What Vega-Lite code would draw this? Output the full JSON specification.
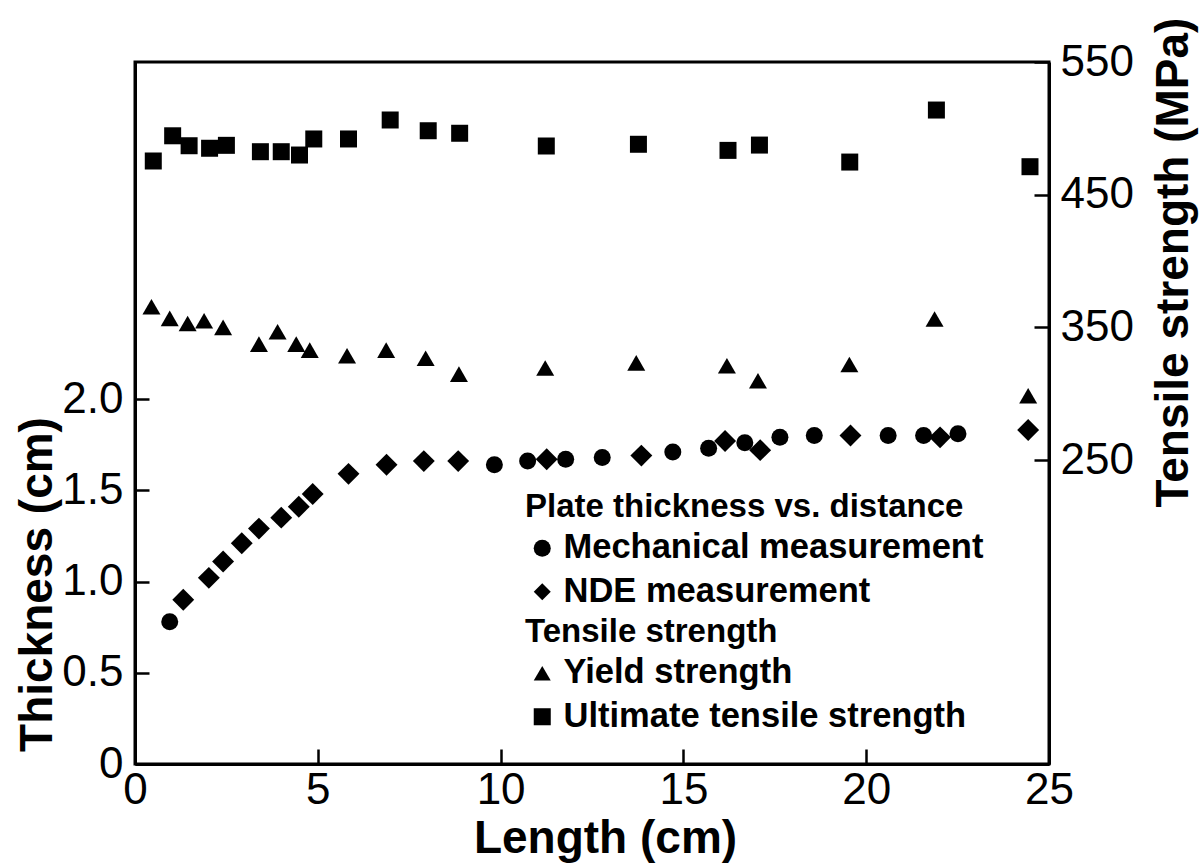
{
  "$schema": "https://vega.github.io/schema/vega-lite/v6.json",
  "width": 914,
  "height": 702,
  "autosize": {"type": "none"},
  "padding": {"left": 135, "top": 62, "right": 153, "bottom": 103},
  "background": "white",
  "config": {
    "font": "Liberation Sans",
    "view": {"stroke": "black", "strokeWidth": 3},
    "axis": {
      "grid": false,
      "domainColor": "black",
      "domainWidth": 3,
      "tickColor": "black",
      "tickWidth": 2.5,
      "labelColor": "black",
      "titleColor": "black",
      "labelFont": "Liberation Sans",
      "titleFont": "Liberation Sans",
      "labelFontSize": 44,
      "titleFontSize": 46,
      "titleFontWeight": "bold",
      "labelOverlap": false,
      "labelBound": false,
      "labelFlush": false
    },
    "legend": {
      "padding": 0,
      "titleFont": "Liberation Sans",
      "labelFont": "Liberation Sans",
      "titleFontSize": 33,
      "labelFontSize": 34.5,
      "titleFontWeight": "bold",
      "labelFontWeight": "bold",
      "titleColor": "black",
      "labelColor": "black",
      "symbolFillColor": "black",
      "symbolStrokeColor": "black",
      "symbolStrokeWidth": 0,
      "symbolOpacity": 1,
      "symbolSize": 290,
      "labelOffset": 4,
      "rowPadding": 8.5,
      "titlePadding": 7,
      "labelLimit": 600,
      "titleLimit": 600
    }
  },
  "datasets": {
    "thickness": [
      {"length": 0.95, "thickness": 0.78, "method": "Mechanical measurement"},
      {"length": 9.83, "thickness": 1.64, "method": "Mechanical measurement"},
      {"length": 10.74, "thickness": 1.66, "method": "Mechanical measurement"},
      {"length": 11.78, "thickness": 1.67, "method": "Mechanical measurement"},
      {"length": 12.78, "thickness": 1.68, "method": "Mechanical measurement"},
      {"length": 14.71, "thickness": 1.71, "method": "Mechanical measurement"},
      {"length": 15.69, "thickness": 1.73, "method": "Mechanical measurement"},
      {"length": 16.68, "thickness": 1.76, "method": "Mechanical measurement"},
      {"length": 17.64, "thickness": 1.79, "method": "Mechanical measurement"},
      {"length": 18.58, "thickness": 1.80, "method": "Mechanical measurement"},
      {"length": 20.60, "thickness": 1.80, "method": "Mechanical measurement"},
      {"length": 21.57, "thickness": 1.80, "method": "Mechanical measurement"},
      {"length": 22.51, "thickness": 1.81, "method": "Mechanical measurement"},
      {"length": 1.32, "thickness": 0.90, "method": "NDE measurement"},
      {"length": 2.02, "thickness": 1.02, "method": "NDE measurement"},
      {"length": 2.41, "thickness": 1.11, "method": "NDE measurement"},
      {"length": 2.92, "thickness": 1.21, "method": "NDE measurement"},
      {"length": 3.39, "thickness": 1.29, "method": "NDE measurement"},
      {"length": 4.00, "thickness": 1.35, "method": "NDE measurement"},
      {"length": 4.48, "thickness": 1.41, "method": "NDE measurement"},
      {"length": 4.86, "thickness": 1.48, "method": "NDE measurement"},
      {"length": 5.84, "thickness": 1.59, "method": "NDE measurement"},
      {"length": 6.88, "thickness": 1.64, "method": "NDE measurement"},
      {"length": 7.90, "thickness": 1.66, "method": "NDE measurement"},
      {"length": 8.84, "thickness": 1.66, "method": "NDE measurement"},
      {"length": 11.26, "thickness": 1.67, "method": "NDE measurement"},
      {"length": 13.85, "thickness": 1.69, "method": "NDE measurement"},
      {"length": 16.14, "thickness": 1.77, "method": "NDE measurement"},
      {"length": 17.10, "thickness": 1.72, "method": "NDE measurement"},
      {"length": 19.57, "thickness": 1.80, "method": "NDE measurement"},
      {"length": 22.02, "thickness": 1.79, "method": "NDE measurement"},
      {"length": 24.43, "thickness": 1.83, "method": "NDE measurement"}
    ],
    "tensile": [
      {"length": 0.45, "strength": 365.6, "property": "Yield strength"},
      {"length": 0.95, "strength": 356.8, "property": "Yield strength"},
      {"length": 1.44, "strength": 353.0, "property": "Yield strength"},
      {"length": 1.89, "strength": 355.0, "property": "Yield strength"},
      {"length": 2.41, "strength": 350.0, "property": "Yield strength"},
      {"length": 3.39, "strength": 337.4, "property": "Yield strength"},
      {"length": 3.90, "strength": 346.7, "property": "Yield strength"},
      {"length": 4.41, "strength": 337.4, "property": "Yield strength"},
      {"length": 4.78, "strength": 332.9, "property": "Yield strength"},
      {"length": 5.80, "strength": 328.6, "property": "Yield strength"},
      {"length": 6.87, "strength": 332.9, "property": "Yield strength"},
      {"length": 7.95, "strength": 326.7, "property": "Yield strength"},
      {"length": 8.86, "strength": 314.8, "property": "Yield strength"},
      {"length": 11.22, "strength": 319.4, "property": "Yield strength"},
      {"length": 13.71, "strength": 323.3, "property": "Yield strength"},
      {"length": 16.19, "strength": 321.1, "property": "Yield strength"},
      {"length": 17.04, "strength": 309.8, "property": "Yield strength"},
      {"length": 19.54, "strength": 322.1, "property": "Yield strength"},
      {"length": 21.87, "strength": 356.3, "property": "Yield strength"},
      {"length": 24.43, "strength": 298.5, "property": "Yield strength"},
      {"length": 0.50, "strength": 475.4, "property": "Ultimate tensile strength"},
      {"length": 1.03, "strength": 494.4, "property": "Ultimate tensile strength"},
      {"length": 1.48, "strength": 486.9, "property": "Ultimate tensile strength"},
      {"length": 2.04, "strength": 485.0, "property": "Ultimate tensile strength"},
      {"length": 2.50, "strength": 487.2, "property": "Ultimate tensile strength"},
      {"length": 3.43, "strength": 482.4, "property": "Ultimate tensile strength"},
      {"length": 4.00, "strength": 482.4, "property": "Ultimate tensile strength"},
      {"length": 4.50, "strength": 479.9, "property": "Ultimate tensile strength"},
      {"length": 4.89, "strength": 492.0, "property": "Ultimate tensile strength"},
      {"length": 5.84, "strength": 492.0, "property": "Ultimate tensile strength"},
      {"length": 6.98, "strength": 506.3, "property": "Ultimate tensile strength"},
      {"length": 8.02, "strength": 498.2, "property": "Ultimate tensile strength"},
      {"length": 8.88, "strength": 496.3, "property": "Ultimate tensile strength"},
      {"length": 11.25, "strength": 486.7, "property": "Ultimate tensile strength"},
      {"length": 13.77, "strength": 488.0, "property": "Ultimate tensile strength"},
      {"length": 16.22, "strength": 483.4, "property": "Ultimate tensile strength"},
      {"length": 17.08, "strength": 487.4, "property": "Ultimate tensile strength"},
      {"length": 19.55, "strength": 474.6, "property": "Ultimate tensile strength"},
      {"length": 21.92, "strength": 513.8, "property": "Ultimate tensile strength"},
      {"length": 24.48, "strength": 471.1, "property": "Ultimate tensile strength"}
    ]
  },
  "layer": [
    {
      "data": {"name": "thickness"},
      "encoding": {
        "x": {
          "field": "length",
          "type": "quantitative",
          "scale": {"domain": [0, 25], "nice": false},
          "axis": {
            "values": [0, 5, 10, 15, 20, 25],
            "tickSize": -15,
            "labelPadding": 19,
            "title": "Length (cm)",
            "titleX": 470,
            "titleY": 52,
            "titleBaseline": "top"
          }
        },
        "y": {
          "field": "thickness",
          "type": "quantitative",
          "scale": {"domain": [0, 3.847], "nice": false, "zero": false},
          "axis": {
            "orient": "left",
            "values": [0, 0.5, 1, 1.5, 2],
            "labelExpr": "datum.value === 0 ? '0' : format(datum.value, '.1f')",
            "tickSize": -14,
            "labelPadding": 26,
            "title": "Thickness (cm)",
            "titleAngle": 270,
            "titleX": -98,
            "titleY": 522,
            "titleAlign": "center",
            "titleBaseline": "middle"
          }
        },
        "shape": {
          "field": "method",
          "type": "nominal",
          "scale": {"domain": ["Mechanical measurement", "NDE measurement"], "range": ["circle", "diamond"]},
          "legend": {"title": "Plate thickness vs. distance", "orient": "none", "legendX": 390, "legendY": 429}
        }
      },
      "layer": [
        {
          "transform": [{"filter": "datum.method === 'Mechanical measurement'"}],
          "mark": {"type": "point", "filled": true, "opacity": 1, "color": "black", "size": 289}
        },
        {
          "transform": [{"filter": "datum.method === 'NDE measurement'"}],
          "mark": {"type": "point", "filled": true, "opacity": 1, "color": "black", "size": 480}
        }
      ]
    },
    {
      "data": {"name": "tensile"},
      "encoding": {
        "x": {"field": "length", "type": "quantitative"},
        "y": {
          "field": "strength",
          "type": "quantitative",
          "scale": {"domain": [21, 550], "nice": false, "zero": false},
          "axis": {
            "orient": "right",
            "values": [250, 350, 450, 550],
            "tickSize": -15,
            "labelPadding": 26,
            "title": "Tensile strength (MPa)",
            "titleAngle": 270,
            "titleX": 124,
            "titleY": 200,
            "titleAlign": "center",
            "titleBaseline": "middle"
          }
        },
        "shape": {
          "field": "property",
          "type": "nominal",
          "scale": {"domain": ["Yield strength", "Ultimate tensile strength"], "range": ["triangle-up", "square"]},
          "legend": {"title": "Tensile strength", "orient": "none", "legendX": 390, "legendY": 554}
        }
      },
      "layer": [
        {
          "transform": [{"filter": "datum.property === 'Yield strength'"}],
          "mark": {"type": "point", "filled": true, "opacity": 1, "color": "black", "size": 324}
        },
        {
          "transform": [{"filter": "datum.property === 'Ultimate tensile strength'"}],
          "mark": {"type": "point", "filled": true, "opacity": 1, "color": "black", "size": 289}
        }
      ]
    }
  ],
  "resolve": {"scale": {"y": "independent", "shape": "independent"}}
}
